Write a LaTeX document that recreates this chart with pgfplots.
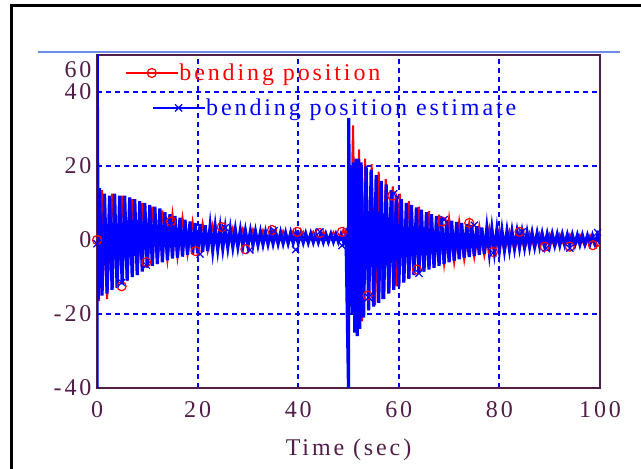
\documentclass[border=0pt]{standalone}
\usepackage{pgfplots}
\pgfplotsset{compat=1.18}
\usepackage{fontspec}
\setmainfont{Liberation Serif}[LetterSpace=12]
\definecolor{axpurple}{RGB}{80,30,70}
\definecolor{lightblue}{RGB}{110,140,230}
\definecolor{gridblue}{RGB}{0,0,255}
\pgfplotsset{
  base/.style={scale only axis, width=503bp, height=333bp,
    xmin=0, xmax=100, ymin=-40, ymax=50,
    at={(97bp,81bp)}, anchor=south west},
  legend image code/.code={\draw[mark repeat=2,mark phase=2,#1] plot coordinates {(0bp,0bp) (26bp,0bp) (52bp,0bp)};},
}
\begin{document}
\begin{tikzpicture}[x=1bp,y=1bp]
\useasboundingbox (0,0) rectangle (641,469);
\draw[black, line width=3bp] (11,0) -- (11,463.5) -- (641,463.5);
\draw[lightblue, line width=1.5bp] (38,417) -- (620,417);
\begin{axis}[base,
  axis line style={axpurple, line width=1.5bp},
  major tick length=0pt,
  xtick={0,20,40,60,80,100}, xticklabels={0,20,40,60,80,100},
  ytick={-40,-20,0,20,40}, yticklabels={-40,-20,0,20,40},
  extra y ticks={46}, extra y tick labels={60},
  extra y tick style={grid=none, major tick length=0pt},
  xmajorgrids, ymajorgrids,
  major grid style={draw=gridblue, line width=2bp, dash pattern=on 5bp off 4bp},
  tick label style={font=\fontsize{24bp}{26bp}\selectfont, text=axpurple},
  xticklabel style={yshift=-10bp},
  yticklabel style={xshift=-2bp},
  xlabel={Time (sec)},
  xlabel style={font=\fontsize{24bp}{26bp}\selectfont, text=axpurple, yshift=-14bp},
  clip mode=individual,
]
\addplot[red, line width=2bp, forget plot] coordinates {
(0,0) (0.4,-16.5) (1,13.5) (2,-16) (3,12.5) (4,-12.5) (5,12) (6,-11) (7,11) (8,-9.5)
(9,10) (10,-7.5) (11,9) (12,-6.5) (13,8) (14,-5.5) (15,7) (16,-4.8) (17,6) (18,-4)
(19,5) (20,-3.5) (21,4.5) (22,-3) (23,4) (24,-2.5) (25,3.5) (26,-2) (27,3.2) (28,-1.8)
(29,3) (30,-1.5) (31,2.8) (32,-1.3) (33,2.6) (34,-1.1) (35,2.5) (36,-1) (37,2.4) (38,-0.9)
(39,2.3) (40,-0.8) (41,2.2) (42,-0.7) (43,2.2) (44,-0.6) (45,2.1) (46,-0.5) (47,2.1) (48,-0.5)
(49,2.8) (49.6,-0.5) (50.2,-17.5) (50.9,31) (51.5,-24) (52.1,24.5) (52.7,-22) (53.3,22) (54,-19) (54.6,20.5)
(55.3,-17.5) (56,18.5) (56.7,-16) (57.4,16.5) (58.1,-14) (58.8,14.5) (59.5,-12.5) (60.2,12.5) (61,-11) (62,10.5)
(63,-9.5) (64,9) (65,-8.5) (66,7.8) (67,-7.5) (68,6.8) (69,-6.5) (70,5.8) (71,-6) (72,5)
(73,-5.3) (74,4.5) (75,-4.7) (76,3.8) (77,-4.2) (78,3.3) (79,-3.6) (80,2.8) (81,-3.1) (82,2.4)
(83,-2.8) (84,2.1) (85,-2.5) (86,1.9) (87,-2.3) (88,1.7) (89,-2.1) (90,1.6) (91,-2) (92,1.5)
(93,-1.9) (94,1.4) (95,-1.8) (96,1.3) (97,-1.7) (98,1.2) (99,-1.6) (100,-1.5)
};
\addplot[blue, line width=3.2bp, forget plot] coordinates {
(0,-40) (0,60) (0.25,-16) (0.5,14) (1,-15) (1.5,12.5) (2,-14.5) (2.5,12) (3,-13.5) (3.5,12.5)
(4,-13) (4.5,12) (5,-12) (5.5,12) (6,-11) (6.5,11.5) (7,-10) (7.5,11) (8,-9.5) (8.5,10.5)
(9,-8.5) (9.5,10) (10,-7.5) (10.5,9.5) (11,-7) (11.5,9) (12,-6.5) (12.5,8.5) (13,-6) (13.5,7.5)
(14,-5.5) (14.5,7) (15,-5) (15.5,6.5) (16,-4.8) (16.5,6) (17,-4.5) (17.5,5.5) (18,-4) (18.5,5)
(19,-3.8) (19.5,4.6) (20,-3.5) (20.5,4.3) (21,-3.2) (21.5,4) (22,-3) (22.5,3.8) (23,-2.8) (23.5,3.5)
(24,-2.5) (24.5,3.3) (25,-2.3) (25.5,3.1) (26,-2) (26.5,3) (27,-1.9) (27.5,2.8) (28,-1.8) (28.5,2.7)
(29,-1.6) (29.5,2.5) (30,-1.5) (30.5,2.4) (31,-1.4) (31.5,2.3) (32,-1.3) (32.5,2.2) (33,-1.2) (33.5,2.1)
(34,-1.1) (34.5,2.1) (35,-1) (35.5,2) (36,-1) (36.5,2) (37,-0.9) (37.5,1.9) (38,-0.9) (38.5,1.9)
(39,-0.8) (39.5,1.8) (40,-0.8) (40.5,1.8) (41,-0.7) (41.5,1.7) (42,-0.7) (42.5,1.7) (43,-0.6) (43.5,1.7)
(44,-0.6) (44.5,1.6) (45,-0.6) (45.5,1.6) (46,-0.5) (46.5,1.6) (47,-0.5) (47.5,1.5) (48,-0.5) (48.5,1.5)
(49,-0.5) (49.5,1.5) (50,-40) (50.05,33) (50.25,-18) (50.5,20) (50.75,-20) (51,21) (51.25,-25) (51.5,22)
(51.75,-26) (52,22) (52.25,-24) (52.5,21) (53,-21) (53.5,20) (54,-19) (54.5,19) (55,-18) (55.5,17.5)
(56,-17) (56.5,16) (57,-16) (57.5,15) (58,-14.5) (58.5,13.5) (59,-13.5) (59.5,12) (60,-12.5) (60.5,11)
(61,-11.5) (61.5,10) (62,-10.5) (62.5,9.5) (63,-9.5) (63.5,8.8) (64,-9) (64.5,8.2) (65,-8.5) (65.5,7.5)
(66,-8) (66.5,7) (67,-7.5) (67.5,6.5) (68,-7) (68.5,6) (69,-6.5) (69.5,5.5) (70,-6) (70.5,5.2)
(71,-5.6) (71.5,4.9) (72,-5.2) (72.5,4.6) (73,-4.9) (73.5,4.3) (74,-4.6) (74.5,4) (75,-4.3) (75.5,3.7)
(76,-4) (76.5,3.4) (77,-3.7) (77.5,3.2) (78,-3.4) (78.5,3) (79,-3.1) (79.5,2.8) (80,-2.9) (80.5,2.6)
(81,-2.7) (81.5,2.4) (82,-2.5) (82.5,2.3) (83,-2.3) (83.5,2.2) (84,-2.1) (84.5,2.1) (85,-2) (85.5,2)
(86,-1.9) (86.5,1.9) (87,-1.8) (87.5,1.8) (88,-1.7) (88.5,1.7) (89,-1.6) (89.5,1.6) (90,-1.5) (90.5,1.6)
(91,-1.4) (91.5,1.5) (92,-1.4) (92.5,1.5) (93,-1.3) (93.5,1.4) (94,-1.3) (94.5,1.4) (95,-1.2) (95.5,1.3)
(96,-1.2) (96.5,1.3) (97,-1.1) (97.5,1.2) (98,-1.1) (98.5,1.2) (99,-1) (99.5,1.2) (100,-1)
};
\addplot[only marks, red, mark=o, mark size=4.5bp, mark options={line width=1.2bp}, forget plot] coordinates {
(0,0) (4.9,-12.5) (9.8,-6) (14.7,5) (19.6,-3) (24.8,3.5) (29.5,-2.5) (34.8,2.7) (39.8,2.2) (44.3,1.9) (48.7,2.2)
(53.8,-15) (58.7,12) (63.6,-8) (68.6,5) (74,4.6) (78.7,-3.2) (84,2.2) (89,-1.8) (94,-1.8) (98.6,-1.4)
};
\addplot[only marks, blue, mark=x, mark size=5bp, mark options={line width=1.2bp}, forget plot] coordinates {
(0,-1) (4.9,-11.5) (9.8,-6.8) (14.7,4.2) (20.5,-3.8) (25.5,3.3) (30.4,-2.7) (35.2,2.5) (39.5,-2.6) (44.3,2.2) (48.7,-1.5)
(54,-15.5) (59,12.5) (64,-9) (69,5.5) (75,4) (78.7,-3.5) (84.5,2.2) (89.3,-2.2) (94,-2.2) (99.5,2)
};
\end{axis}
\begin{axis}[base, hide axis, grid=none, xtick=\empty, ytick=\empty,
  legend style={at={(rel axis cs:0.0557,0.946)}, anchor=west, draw=none, fill=none, inner sep=0pt,
    font=\fontsize{24bp}{26bp}\selectfont, text=red, nodes={inner sep=1bp}}]
\addlegendimage{red, line width=1.2bp, mark=o, mark size=4.5bp, mark options={line width=1.2bp}}
\addlegendentry{bending position}
\end{axis}
\begin{axis}[base, hide axis, grid=none, xtick=\empty, ytick=\empty,
  legend style={at={(rel axis cs:0.109,0.841)}, anchor=west, draw=none, fill=none, inner sep=0pt,
    font=\fontsize{24bp}{26bp}\selectfont, text=blue, nodes={inner sep=1bp}}]
\addlegendimage{blue, line width=1.2bp, mark=x, mark size=5bp, mark options={line width=1.2bp}}
\addlegendentry{bending position estimate}
\end{axis}
\end{tikzpicture}
\end{document}
